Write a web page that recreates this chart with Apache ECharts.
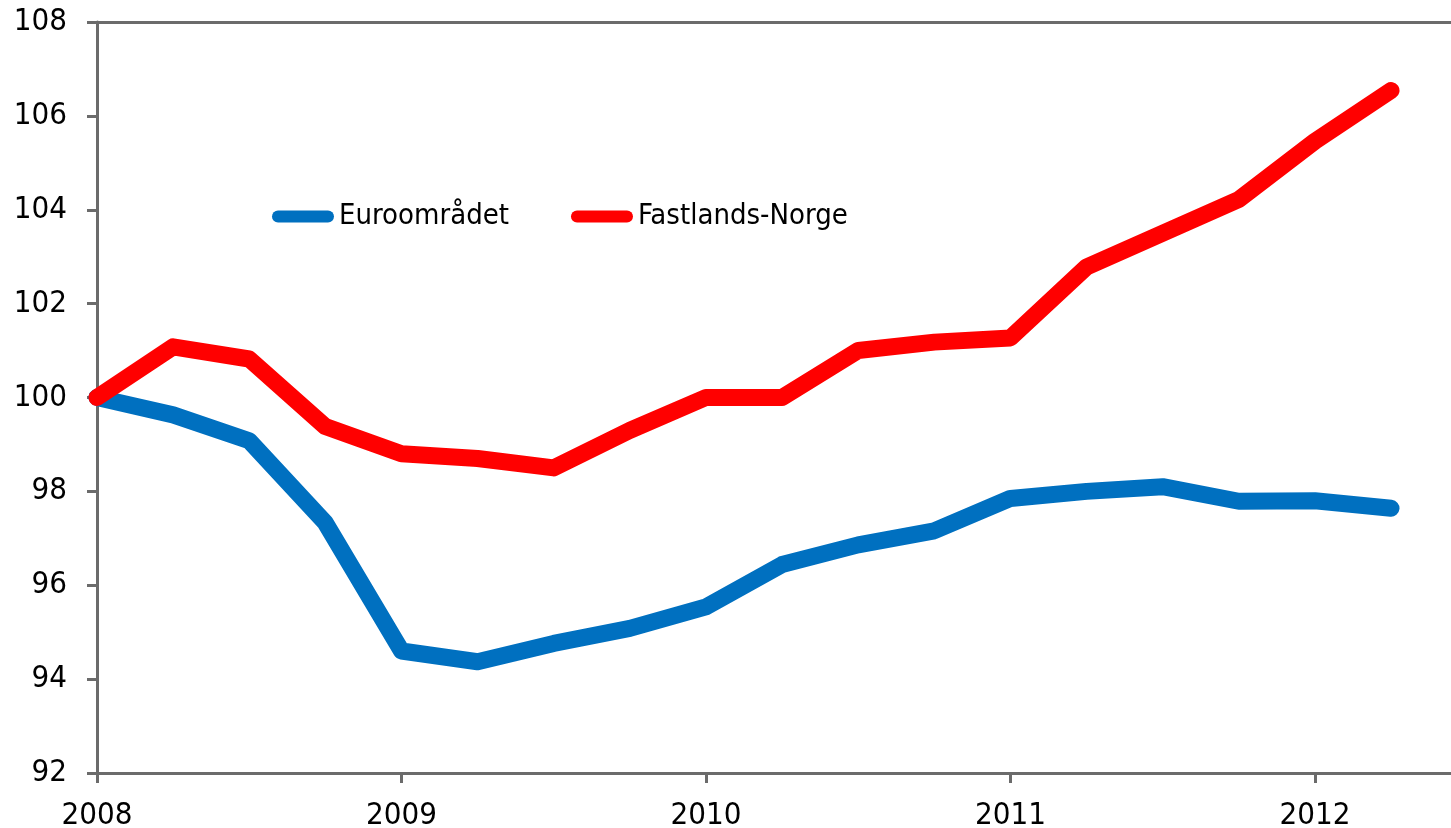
<!DOCTYPE html>
<html>
<head>
<meta charset="utf-8">
<style>
  html, body { margin: 0; padding: 0; background: #fff; }
  #chart { width: 1451px; height: 828px; }
</style>
<script src="https://cdn.jsdelivr.net/npm/echarts@6/dist/echarts.min.js"></script>
</head>
<body>
<div id="chart"></div>
<script>
// Quarterly time positions (years)
const quarters = [2008, 2008.25, 2008.5, 2008.75, 2009, 2009.25, 2009.5, 2009.75,
                  2010, 2010.25, 2010.5, 2010.75, 2011, 2011.25, 2011.5, 2011.75,
                  2012, 2012.25];
const seriesNames = ['Euroområdet', 'Fastlands-Norge'];
const euroValues = [100, 99.63, 99.08, 97.33, 94.6, 94.37, 94.76, 95.08,
                    95.54, 96.44, 96.86, 97.16, 97.85, 98.0, 98.1, 97.79,
                    97.8, 97.64];
const norgeValues = [100, 101.08, 100.82, 99.38, 98.8, 98.7, 98.5, 99.3,
                     100, 100, 101.0, 101.18, 101.27, 102.78, 103.5, 104.22,
                     105.46, 106.54];
const yearTicks = [2008, 2009, 2010, 2011, 2012];

const FONT = "'DejaVu Sans Condensed', 'DejaVu Sans', sans-serif";
const AXIS_COLOR = '#6b6b6b';

const pair = (vals) => quarters.map((q, i) => [q, vals[i]]);

const chart = echarts.init(document.getElementById('chart'), null, { renderer: 'canvas' });
chart.setOption({
  animation: false,
  backgroundColor: '#ffffff',
  grid: { left: 97, right: 0, top: 22, bottom: 55, containLabel: false, outerBoundsMode: 'none' },
  legend: {
    data: seriesNames,
    left: 272,
    top: 202,
    padding: 0,
    itemWidth: 62,
    itemHeight: 12,
    itemGap: 62,
    icon: 'path://M6,0 L56,0 A6,6 0 0 1 56,12 L6,12 A6,6 0 0 1 6,0 Z',
    textStyle: { fontFamily: FONT, fontSize: 29, color: '#000' }
  },
  xAxis: [{
    type: 'value',
    min: 2008,
    max: 2012.447,
    interval: 1,
    position: 'bottom',
    axisLine: { show: true, lineStyle: { color: AXIS_COLOR, width: 3 } },
    axisTick: { show: true, length: 10, inside: false, customValues: yearTicks,
                lineStyle: { color: AXIS_COLOR, width: 3 } },
    axisLabel: { customValues: yearTicks, margin: 27, fontFamily: FONT, fontSize: 31, color: '#000',
                 formatter: (v) => String(v) },
    splitLine: { show: false }
  }, {
    type: 'value',
    min: 2008,
    max: 2012.447,
    position: 'top',
    axisLine: { show: true, onZero: false, lineStyle: { color: AXIS_COLOR, width: 3 } },
    axisTick: { show: false },
    axisLabel: { show: false },
    splitLine: { show: false }
  }],
  yAxis: {
    type: 'value',
    min: 92,
    max: 108,
    interval: 2,
    axisLine: { show: true, onZero: false, lineStyle: { color: AXIS_COLOR, width: 3 } },
    axisTick: { show: true, length: 10, inside: false, lineStyle: { color: AXIS_COLOR, width: 3 } },
    axisLabel: { margin: 30, fontFamily: FONT, fontSize: 31, color: '#000' },
    splitLine: { show: false }
  },
  series: [{
    name: seriesNames[0],
    type: 'line',
    data: pair(euroValues),
    symbol: 'none',
    color: '#0070C0',
    lineStyle: { width: 17, color: '#0070C0', cap: 'round', join: 'round' }
  }, {
    name: seriesNames[1],
    type: 'line',
    data: pair(norgeValues),
    symbol: 'none',
    color: '#FF0000',
    lineStyle: { width: 17, color: '#FF0000', cap: 'round', join: 'round' }
  }]
});
</script>
</body>
</html>
